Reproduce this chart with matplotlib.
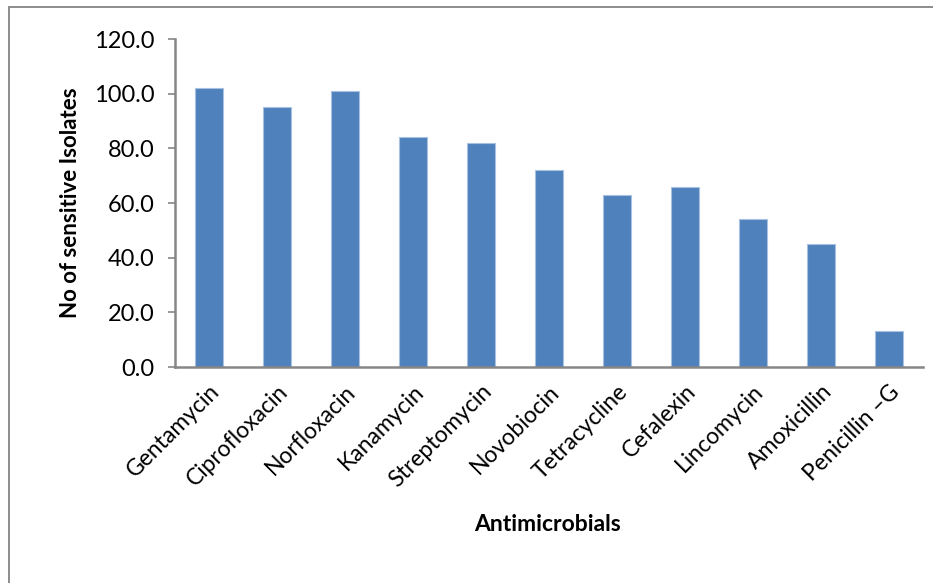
#!/usr/bin/env python3
import matplotlib
matplotlib.use('Agg')
import matplotlib.pyplot as plt
from matplotlib.patches import Rectangle
from matplotlib.ticker import FormatStrFormatter

# ---------------------
# Data
# ---------------------
drugs = ['Gentamycin', 'Ciprofloxacin', 'Norfloxacin', 'Kanamycin',
         'Streptomycin', 'Novobiocin', 'Tetracycline', 'Cefalexin',
         'Lincomycin', 'Amoxicillin', 'Penicillin \u2013G']
sensitive = [102, 95, 101, 84, 82, 72, 63, 66, 54, 45, 13]
y_ticks = [0, 20, 40, 60, 80, 100, 120]

# ---------------------
# Figure
# ---------------------
plt.rcParams['font.family'] = ['Lato', 'DejaVu Sans']

W, H = 933, 583
fig = plt.figure(figsize=(W / 100, H / 100), dpi=100)

# outer chart border (cut off at right and bottom like the original)
fig.patches.append(Rectangle((9 / W, -0.05), 1.2, (H - 7) / H + 0.05,
                             transform=fig.transFigure, fill=False,
                             edgecolor='#8c8c8c', linewidth=1.4))

ax = fig.add_axes([175 / W, (H - 367) / H, 748 / W, 328 / H])
ax.bar(range(len(drugs)), sensitive, width=0.4, color='#4f81bd',
       edgecolor='#a9c1e0', linewidth=0.8)

ax.set_xlim(-0.5, len(drugs) - 0.5)
ax.set_ylim(0, 120)
ax.set_yticks(y_ticks)
ax.yaxis.set_major_formatter(FormatStrFormatter('%.1f'))
ax.set_xticks(range(len(drugs)))
ax.set_xticklabels(drugs, rotation=45, ha='right', rotation_mode='anchor',
                   fontsize=16.5)
ax.tick_params(axis='x', length=0, pad=10)
ax.tick_params(axis='y', length=5, width=1.2, color='#868686',
               labelsize=17, pad=10)

for s in ['top', 'right']:
    ax.spines[s].set_visible(False)
for s in ['left', 'bottom']:
    ax.spines[s].set_color('#868686')
    ax.spines[s].set_linewidth(1.8)

ax.set_ylabel('No of sensitive Isolates', fontsize=16, fontweight='bold')
ax.set_xlabel('Antimicrobials', fontsize=16.5, fontweight='bold')
ax.xaxis.set_label_coords((548 - 175) / 748, -(514 - 367) / 328)
ax.yaxis.set_label_coords(-(175 - 81) / 748, 0.5)

fig.savefig('out.png', dpi=100)
